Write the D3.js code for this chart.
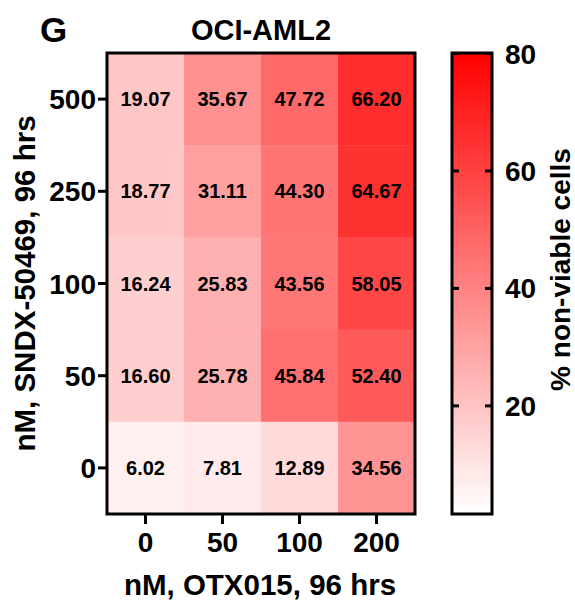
<!DOCTYPE html>
<html><head><meta charset="utf-8">
<script src="https://cdn.jsdelivr.net/npm/d3@7"></script>
<style>
html,body{margin:0;padding:0;background:#fff;}
text{font-family:"Liberation Sans",Arial,Helvetica,sans-serif;font-weight:bold;fill:#000;}
</style></head>
<body>
<svg id="c" width="575" height="602"></svg>
<script>
const otxDoses = ["0", "50", "100", "200"];
const sndxDoses = ["500", "250", "100", "50", "0"];
const row500 = [19.07, 35.67, 47.72, 66.20];
const row250 = [18.77, 31.11, 44.30, 64.67];
const row100 = [16.24, 25.83, 43.56, 58.05];
const row50  = [16.60, 25.78, 45.84, 52.40];
const row0   = [6.02, 7.81, 12.89, 34.56];
const colorbarTicks = [20, 40, 60, 80];
const colorMin = 1.5, colorMax = 80;

const rowsData = [row500, row250, row100, row50, row0];
const cells = [];
sndxDoses.forEach((r, i) => otxDoses.forEach((c, j) => cells.push({r, c, v: rowsData[i][j]})));

const svg = d3.select("#c");
const L = 107, R = 415, T = 53, B = 514;
const x = d3.scaleBand().domain(otxDoses).range([L, R]);
const y = d3.scaleBand().domain(sndxDoses).range([T, B]);
const color = d3.scaleLinear().domain([colorMin, colorMax]).range(["#ffffff", "#ff0000"]).clamp(true);

// cells
svg.append("g").selectAll("rect").data(cells).join("rect")
  .attr("x", d => x(d.c)).attr("y", d => y(d.r))
  .attr("width", x.bandwidth() + 0.5).attr("height", y.bandwidth() + 0.5)
  .attr("fill", d => color(d.v));
svg.append("g").selectAll("text").data(cells).join("text")
  .attr("x", d => x(d.c) + x.bandwidth() / 2)
  .attr("y", d => y(d.r) + y.bandwidth() / 2 + 7)
  .attr("text-anchor", "middle").style("font-size", "20px")
  .text(d => d.v.toFixed(2));
svg.append("rect").attr("x", L).attr("y", T).attr("width", R - L).attr("height", B - T)
  .attr("fill", "none").attr("stroke", "#000").attr("stroke-width", 3);

// axes
const xa = svg.append("g").attr("transform", `translate(0,${B})`)
  .call(d3.axisBottom(x).tickSize(10).tickPadding(8));
const ya = svg.append("g").attr("transform", `translate(${L},0)`)
  .call(d3.axisLeft(y).tickSize(9).tickPadding(2));
[xa, ya].forEach(a => {
  a.select(".domain").remove();
  a.selectAll(".tick line").attr("stroke", "#000").attr("stroke-width", 3);
  a.selectAll(".tick text").style("font-size", "28px").attr("fill", "#000");
});
ya.selectAll(".tick text").attr("dy", "0.36em");

// titles
svg.append("text").attr("x", 40).attr("y", 42).style("font-size", "35px").text("G");
svg.append("text").attr("x", (L + R) / 2).attr("y", 40).attr("text-anchor", "middle")
  .style("font-size", "29px").text("OCI-AML2");
svg.append("text").attr("x", (L + R) / 2 - 1).attr("y", 595).attr("text-anchor", "middle")
  .style("font-size", "29.5px").text("nM, OTX015, 96 hrs");
svg.append("text").attr("transform", `translate(35,${(T + B) / 2}) rotate(-90)`)
  .attr("text-anchor", "middle").style("font-size", "29.5px").text("nM, SNDX-50469, 96 hrs");

// colorbar
const CL = 452, CR = 492;
const cy = d3.scaleLinear().domain([colorMin, colorMax]).range([B, T]);
const defs = svg.append("defs");
const grad = defs.append("linearGradient").attr("id", "g1")
  .attr("x1", 0).attr("y1", 1).attr("x2", 0).attr("y2", 0);
d3.range(0, 1.0001, 0.1).forEach(t => {
  grad.append("stop").attr("offset", t).attr("stop-color", color(colorMin + t * (colorMax - colorMin)));
});
svg.append("rect").attr("x", CL).attr("y", T).attr("width", CR - CL).attr("height", B - T)
  .attr("fill", "url(#g1)").attr("stroke", "#000").attr("stroke-width", 3);
const cr = svg.append("g").attr("transform", `translate(${CR},0)`)
  .call(d3.axisRight(cy).tickValues(colorbarTicks).tickSize(-7).tickPadding(13));
const cl = svg.append("g").attr("transform", `translate(${CL},0)`)
  .call(d3.axisLeft(cy).tickValues(colorbarTicks).tickSize(-7).tickFormat(""));
[cr, cl].forEach(a => {
  a.select(".domain").remove();
  a.selectAll(".tick line").attr("stroke", "#000").attr("stroke-width", 3);
  a.selectAll(".tick text").style("font-size", "28px").attr("fill", "#000");
});
cr.selectAll(".tick text").attr("dy", "0.36em");
svg.append("text").attr("transform", `translate(570,${(T + B) / 2 - 14}) rotate(-90)`)
  .attr("text-anchor", "middle").style("font-size", "28px").text("% non-viable cells");
</script>
</body></html>
